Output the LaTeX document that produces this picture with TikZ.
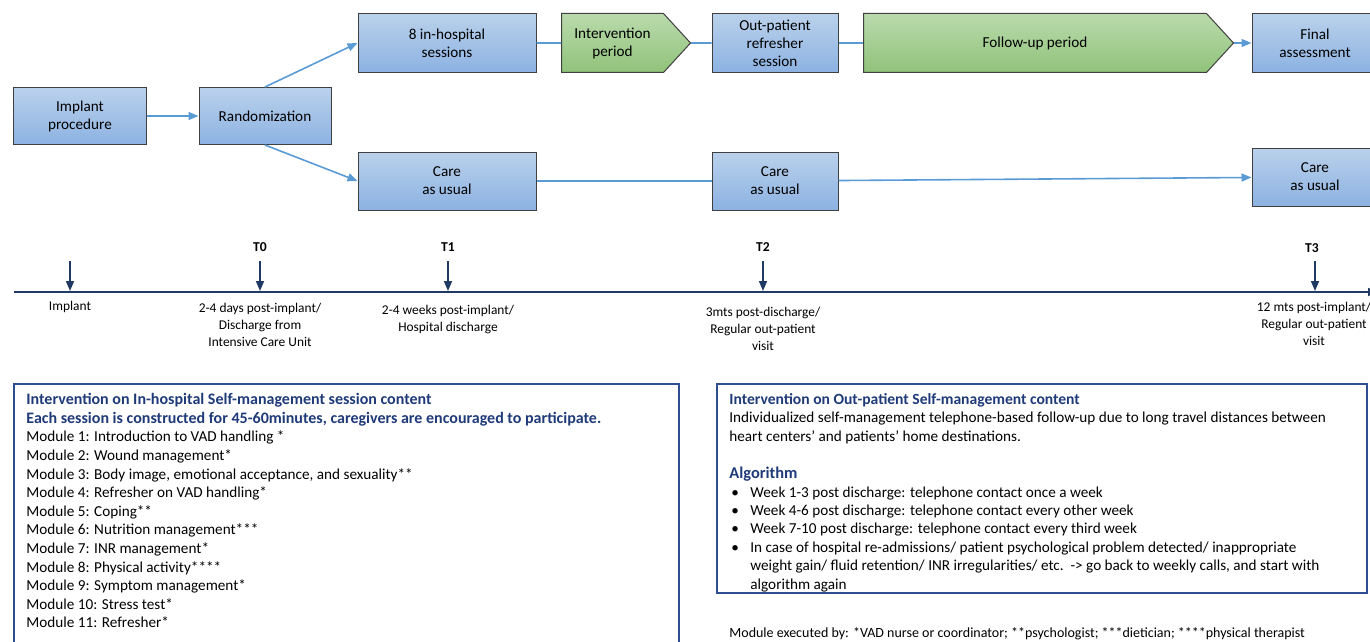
\documentclass[tikz,border=0pt]{standalone}
\usepackage{fontspec}
\setmainfont{Carlito}
\usetikzlibrary{arrows.meta,shapes.symbols}
\definecolor{boxtop}{HTML}{BAD1EB}
\definecolor{boxbot}{HTML}{8CB2E2}
\definecolor{greentop}{HTML}{BADAAD}
\definecolor{greenbot}{HTML}{90C37A}
\definecolor{linkblue}{HTML}{5B9BD5}
\definecolor{navy}{HTML}{1F3864}
\definecolor{framenavy}{HTML}{2F4E8F}
\definecolor{headnavy}{HTML}{1F3A78}
\definecolor{edgegray}{HTML}{404040}
\begin{document}
\begin{tikzpicture}[x=0.5pt, y=-0.5pt, >={Triangle[length=5pt,width=4pt]},
	stage/.style={draw=edgegray, line width=0.5pt, top color=boxtop, bottom color=boxbot, align=center, inner sep=1pt, font=\fontsize{7.6}{9}\selectfont},
	period/.style={signal, signal to=east, signal pointer angle=95, draw=edgegray, line width=0.5pt, top color=greentop, bottom color=greenbot, align=center, inner sep=1pt, font=\fontsize{7.6}{9}\selectfont},
	link/.style={draw=linkblue, line width=0.8pt},
	tick/.style={draw=navy, line width=0.8pt},
	when/.style={font=\fontsize{6.7}{8.4}\selectfont, align=center, anchor=north, inner sep=0pt},
	tlabel/.style={font=\bfseries\fontsize{6.8}{8}\selectfont, inner sep=0pt},
	panel/.style={draw=framenavy, line width=0.8pt}]
	
	\useasboundingbox (0,0) rectangle (1370,642);
	\clip (0,0) rectangle (1370,642);
	
	% Study flow
	\node[stage, minimum width=66.5pt, minimum height=28.5pt] (implant) at (80,116) {Implant\\procedure};
	\node[stage, minimum width=66pt, minimum height=28.5pt] (random) at (265,116) {Randomization};
	\node[stage, minimum width=89pt, minimum height=29.5pt] (inhosp) at (447,43) {8 in-hospital\\sessions};
	\node[period, minimum width=64.5pt, minimum height=29.5pt] (interv) at (612.5,43) {Intervention\\period};
	\node[stage, minimum width=63pt, minimum height=29.5pt] (refresh) at (775,43) {Out-patient\\refresher\\session};
	\node[period, minimum width=185pt, minimum height=29.5pt] (followup) at (1035,43) {Follow-up period};
	\node[stage, minimum width=63pt, minimum height=29.5pt] (final) at (1315,43) {Final\\assessment};
	
	% Care as usual
	\node[stage, minimum width=89pt, minimum height=29pt] (care1) at (447,181) {Care\\as usual};
	\node[stage, minimum width=63pt, minimum height=29pt] (care2) at (775,181) {Care\\as usual};
	\node[stage, minimum width=63pt, minimum height=29pt] (care3) at (1315,177) {Care\\as usual};
	
	% Connections
	\draw[link,->] (implant) -- (random);
	\draw[link,->] (random.north) -- (inhosp.west);
	\draw[link,->] (random.south) -- (care1.west);
	\draw[link] (inhosp) -- (interv);
	\draw[link] (interv) -- (refresh);
	\draw[link] (refresh) -- (followup);
	\draw[link,->] (followup) -- (final);
	\draw[link] (care1) -- (care2);
	\draw[link,->] (care2) -- (care3);
	
	% Timeline
	\coordinate (axisstart) at (14,292);
	\coordinate (axisend) at (1378,292);
	\draw[tick,->] (axisstart) -- (axisend);
	\foreach \x [count=\i] in {70,260,448,763,1315} {
		\coordinate (top\i) at (\x,261);
		\coordinate (hit\i) at (\x,291);
		\draw[tick,->] (top\i) -- (hit\i);
	}
	\node[tlabel] (t0) at (260,247) {T0};
	\node[tlabel] (t1) at (448,247) {T1};
	\node[tlabel] (t2) at (763,247) {T2};
	\node[tlabel] (t3) at (1312,248) {T3};
	\node[when] (when1) at (70,301) {Implant};
	\node[when] (when2) at (260,303) {2-4 days post-implant/\\Discharge from\\Intensive Care Unit};
	\node[when] (when3) at (448,305) {2-4 weeks post-implant/\\Hospital discharge};
	\node[when] (when4) at (763,307) {3mts post-discharge/\\Regular out-patient\\visit};
	\node[when] (when5) at (1314,302) {12 mts post-implant/\\Regular out-patient\\visit};
	
	% In-hospital content
	\draw[panel] (14,384) rectangle (679,660);
	\node[anchor=north west, align=left, inner sep=0pt, font=\fontsize{7.6}{9.3}\selectfont] (inhospital) at (26,393) {%
		\textcolor{headnavy}{\bfseries\fontsize{8}{9.6}\selectfont Intervention on In-hospital Self-management session content}\\
		\textcolor{headnavy}{\bfseries\fontsize{8}{9.6}\selectfont Each session is constructed for 45-60minutes, caregivers are encouraged to participate.}\\
		Module 1: Introduction to VAD handling *\\
		Module 2: Wound management*\\
		Module 3: Body image, emotional acceptance, and sexuality**\\
		Module 4: Refresher on VAD handling*\\
		Module 5: Coping**\\
		Module 6: Nutrition management***\\
		Module 7: INR management*\\
		Module 8: Physical activity****\\
		Module 9: Symptom management*\\
		Module 10: Stress test*\\
		Module 11: Refresher*};
	
	% Out-patient content
	\draw[panel] (717,384) rectangle (1367,593);
	\node[anchor=north west, align=left, inner sep=0pt, font=\fontsize{7.6}{9.2}\selectfont] (outpatient) at (729,393) {%
		\textcolor{headnavy}{\bfseries\fontsize{7.8}{9.2}\selectfont Intervention on Out-patient Self-management content}\\
		Individualized self-management telephone-based follow-up due to long travel distances between\\
		heart centers’ and patients’ home destinations.\\[9.6pt]
		\textcolor{headnavy}{\bfseries\fontsize{8.2}{9.2}\selectfont Algorithm}\\
		\makebox[10.5pt][l]{\hspace{1pt}\textbullet}Week 1-3 post discharge: telephone contact once a week\\
		\makebox[10.5pt][l]{\hspace{1pt}\textbullet}Week 4-6 post discharge: telephone contact every other week\\
		\makebox[10.5pt][l]{\hspace{1pt}\textbullet}Week 7-10 post discharge: telephone contact every third week\\
		\makebox[10.5pt][l]{\hspace{1pt}\textbullet}In case of hospital re-admissions/ patient psychological problem detected/ inappropriate\\
		\hspace*{10.5pt}weight gain/ fluid retention/ INR irregularities/ etc.\ \ -> go back to weekly calls, and start with\\
		\hspace*{10.5pt}algorithm again};
	
	% Footnote
	\node[anchor=west, inner sep=0pt, font=\fontsize{7}{8}\selectfont] (executed) at (729,634) {Module executed by: *VAD nurse or coordinator; **psychologist; ***dietician; ****physical therapist};
	
\end{tikzpicture}
\end{document}
